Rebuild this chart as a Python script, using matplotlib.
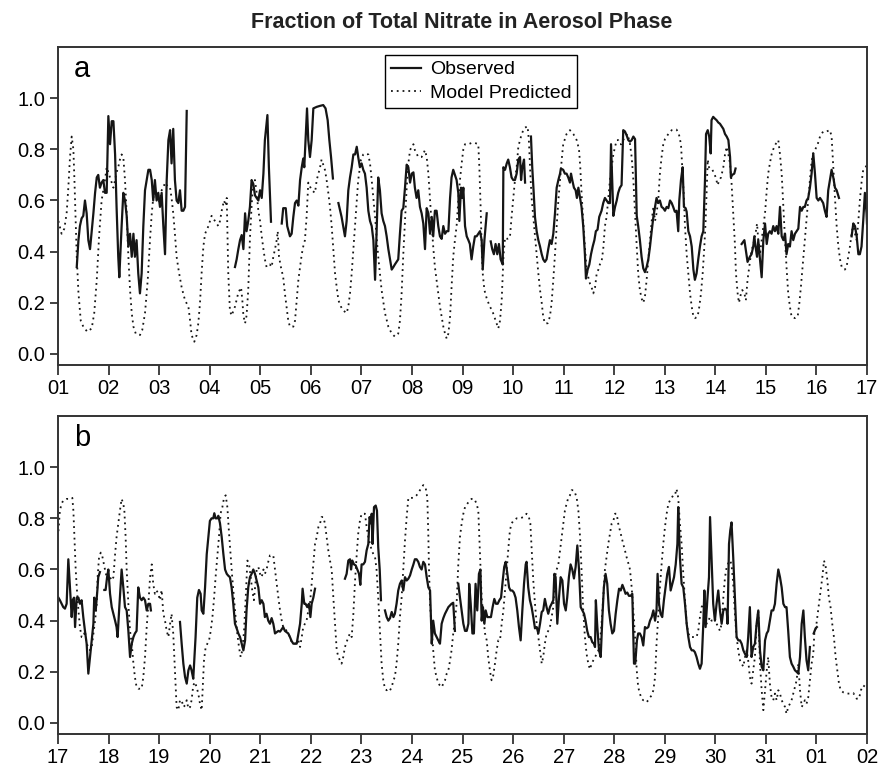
import numpy as np
import matplotlib.pyplot as plt

plt.rcParams['font.family'] = ['Liberation Sans', 'DejaVu Sans']

# hours since start of each panel, value ; (nan, nan) marks a data gap
obs_a = [(8.9, .34), (9.7, .445), (10.4, .50), (11.2, .53), (12.0, .54), (12.8, .60), (13.6, .55), (14.4, .445),
         (15.2, .41), (16.0, .48), (16.8, .55), (17.6, .63), (18.4, .69), (19.1, .70), (19.9, .65), (20.7, .67),
         (21.5, .68), (22.3, .63), (23.1, .63), (23.9, .93), (24.7, .82), (25.5, .91), (26.3, .91), (27.1, .78),
         (27.8, .575), (28.6, .38), (29.1, .30), (30.2, .50), (31.0, .63), (31.8, .60), (32.6, .54), (33.4, .42),
         (34.2, .47), (35.0, .38), (35.8, .47), (36.5, .38), (37.3, .445), (38.1, .315), (38.9, .237), (39.7, .315),
         (40.5, .50), (41.3, .64), (42.1, .68), (42.9, .72), (43.7, .72), (44.5, .68), (45.2, .60), (46.0, .68),
         (46.8, .60), (47.6, .63), (48.4, .575), (49.2, .63), (50.0, .50), (50.8, .39), (51.6, .68), (52.4, .836),
         (53.2, .875), (53.9, .745), (54.7, .88), (55.5, .68), (56.3, .60), (57.1, .59), (57.9, .64), (58.7, .56),
         (59.5, .56), (60.3, .575), (61.1, .95), (np.nan, np.nan),
         (84.0, .34), (84.8, .37), (85.6, .41), (86.4, .445), (87.2, .465), (88.0, .41), (88.8, .55), (89.5, .48),
         (90.3, .52), (91.1, .575), (91.9, .68), (92.7, .665), (93.5, .62), (94.3, .61), (95.1, .60), (95.9, .64),
         (96.7, .61), (97.5, .705), (98.2, .836), (99.4, .934), (100.1, .73), (101.1, .517), (np.nan, np.nan),
         (106.2, .51), (106.9, .57), (108.1, .57), (108.8, .50), (110.1, .46), (110.9, .47), (111.7, .536),
         (112.5, .59), (113.3, .60), (114.1, .58), (114.9, .68), (115.7, .73), (116.4, .764), (116.9, .73),
         (117.5, .836), (118.2, .96), (118.8, .836), (119.6, .77), (120.4, .836), (121.2, .96), (122.8, .966),
         (124.4, .97), (125.9, .973), (127.0, .96), (128.0, .914), (128.8, .836), (129.6, .77), (130.5, .686),
         (np.nan, np.nan),
         (133.1, .59), (134.6, .536), (136.2, .46), (137.0, .52), (137.8, .64), (138.6, .69), (139.4, .73),
         (140.2, .78), (141.0, .78), (141.8, .81), (142.5, .77), (143.3, .73), (144.1, .745), (144.9, .72),
         (145.7, .705), (146.5, .65), (147.3, .56), (148.1, .52), (148.9, .50), (149.7, .445), (150.5, .29),
         (151.2, .47), (152.0, .69), (152.8, .64), (153.6, .55), (154.4, .52), (155.2, .50), (156.0, .46),
         (156.8, .41), (157.6, .37), (158.4, .33), (159.2, .34), (159.9, .35), (160.7, .36), (161.5, .37),
         (162.3, .47), (163.1, .56), (163.9, .57), (164.7, .65), (165.5, .74), (166.3, .73), (167.1, .67),
         (167.9, .705), (168.7, .71), (169.4, .65), (170.2, .61), (171.0, .64), (171.8, .575), (172.6, .55),
         (173.4, .51), (174.2, .41), (175.0, .57), (175.8, .55), (176.6, .47), (177.4, .536), (178.1, .46),
         (178.9, .56), (179.7, .56), (180.5, .50), (181.3, .46), (182.1, .45), (182.9, .50), (183.7, .47),
         (184.5, .48), (185.3, .48), (186.1, .61), (186.8, .69), (187.6, .72), (188.4, .70), (189.2, .68),
         (190.0, .63), (190.5, .52), (191.3, .65), (191.9, .61), (192.4, .65), (193.2, .50), (194.0, .46),
         (194.8, .445), (195.5, .43), (196.3, .37), (197.1, .42), (197.9, .46), (198.7, .46), (199.5, .47),
         (200.3, .48), (201.1, .445), (201.6, .33), (202.4, .445), (203.5, .55), (np.nan, np.nan),
         (205.4, .44), (206.1, .41), (206.9, .39), (207.7, .43), (208.5, .39), (209.3, .43), (210.1, .37),
         (211.1, .35), (211.4, .73), (212.2, .72), (213.0, .745), (213.7, .76), (214.5, .73), (215.3, .69),
         (216.1, .68), (216.9, .68), (217.7, .705), (218.5, .76), (219.3, .77), (219.8, .68), (220.4, .73),
         (221.2, .76), (221.7, .67), (np.nan, np.nan),
         (224.5, .85), (225.1, .73), (225.8, .63), (226.4, .536), (227.2, .48), (228.0, .445), (228.8, .42),
         (229.6, .39), (230.3, .37), (231.1, .36), (231.9, .37), (232.7, .41), (233.5, .445), (234.3, .43),
         (235.1, .47), (235.9, .55), (236.7, .65), (237.5, .68), (238.3, .705), (238.7, .725), (239.8, .72),
         (240.6, .705), (241.4, .705), (242.2, .69), (243.0, .67), (243.5, .705), (244.1, .68), (244.9, .65),
         (245.7, .64), (246.3, .61), (247.0, .65), (247.8, .61), (248.5, .575), (249.3, .50), (250.1, .39),
         (250.6, .295), (251.4, .33), (252.2, .35), (253.0, .39), (253.8, .42), (254.6, .445), (255.3, .48),
         (256.1, .486), (256.9, .536), (258.0, .56), (258.8, .59), (259.6, .61), (260.4, .60), (261.2, .59),
         (262.0, .59), (262.5, .82), (263.1, .67), (263.6, .54), (264.4, .575), (265.2, .60), (265.9, .63),
         (266.7, .65), (267.5, .66), (268.3, .875), (269.1, .87), (269.9, .855), (270.7, .836), (271.5, .83),
         (272.3, .836), (273.1, .85), (273.9, .84), (274.7, .54), (275.4, .50), (276.2, .445), (277.0, .38),
         (277.8, .335), (278.6, .32), (279.4, .34), (280.2, .37), (281.0, .42), (281.8, .48), (282.6, .536),
         (283.4, .575), (284.1, .61), (284.9, .59), (285.7, .60), (286.5, .575), (287.3, .57), (288.1, .56),
         (288.9, .575), (289.7, .57), (290.5, .60), (291.3, .59), (292.0, .575), (292.8, .556), (293.6, .56),
         (294.4, .48), (294.9, .60), (295.7, .68), (296.5, .73), (297.1, .575), (297.9, .57), (298.4, .556),
         (299.2, .48), (300.0, .46), (300.8, .42), (301.6, .33), (302.3, .29), (303.1, .315), (303.9, .37),
         (304.7, .42), (305.5, .46), (306.3, .48), (307.1, .68), (307.6, .86), (308.4, .875), (309.1, .85),
         (309.8, .784), (310.2, .914), (311.0, .927), (311.8, .92), (312.6, .914), (313.4, .905), (314.2, .90),
         (315.0, .89), (315.8, .88), (316.6, .86), (317.4, .85), (318.2, .836), (319.0, .77), (319.4, .69),
         (320.0, .70), (321.0, .705), (321.6, .725), (np.nan, np.nan),
         (324.5, .43), (325.8, .445), (326.4, .41), (327.3, .36), (328.4, .38), (329.2, .39), (330.0, .42),
         (330.5, .46), (331.1, .42), (331.8, .38), (332.4, .445), (333.2, .37), (334.0, .30), (334.8, .445),
         (335.6, .51), (336.4, .43), (337.1, .47), (337.9, .48), (338.7, .47), (339.5, .50), (340.3, .48),
         (341.1, .50), (341.9, .47), (342.7, .575), (343.5, .46), (344.3, .445), (345.1, .47), (345.8, .39),
         (346.6, .43), (347.4, .42), (348.2, .48), (349.0, .445), (349.8, .47), (350.6, .48), (351.4, .49),
         (352.2, .575), (353.0, .56), (353.8, .575), (354.5, .575), (355.3, .60), (356.1, .61), (356.9, .65),
         (357.7, .705), (358.5, .784), (359.3, .705), (360.1, .61), (360.9, .60), (361.7, .61), (362.5, .60),
         (363.2, .59), (364.0, .56), (364.8, .536), (365.6, .64), (366.4, .68), (367.2, .72), (368.0, .69),
         (368.8, .65), (369.6, .64), (370.7, .61), (np.nan, np.nan),
         (376.7, .46), (377.5, .51), (378.3, .50), (379.1, .46), (379.9, .39), (380.6, .39), (381.4, .42),
         (382.2, .52), (383.0, .63), (383.8, .55), (384.0, .51)]

model_a = [(0.2, .52), (1.7, .47), (3.0, .49), (4.1, .55), (4.9, .65), (5.7, .77), (6.5, .85), (7.3, .80),
           (7.8, .68), (8.4, .51), (8.9, .38), (9.7, .24), (10.8, .13), (12.0, .107), (13.9, .087), (16.0, .10),
           (17.2, .16), (18.4, .29), (19.5, .46), (20.7, .60), (22.3, .68), (23.1, .73), (23.9, .71), (24.7, .69),
           (25.5, .67), (26.3, .65), (27.1, .68), (27.8, .71), (28.6, .73), (29.4, .76), (30.2, .78), (31.0, .77),
           (31.8, .68), (32.6, .55), (33.4, .38), (34.2, .25), (35.0, .16), (35.8, .107), (36.9, .08), (38.9, .074),
           (40.0, .094), (41.3, .16), (42.6, .29), (43.7, .45), (44.5, .55), (45.2, .61), (46.0, .63), (46.8, .61),
           (47.6, .59), (48.4, .60), (49.2, .64), (50.0, .65), (50.8, .67), (52.4, .65), (53.2, .65), (53.9, .61),
           (54.7, .55), (55.5, .47), (56.3, .38), (57.4, .32), (58.7, .26), (60.3, .21), (61.9, .185), (62.7, .13),
           (63.4, .074), (64.7, .048), (65.8, .074), (66.6, .12), (67.4, .20), (68.2, .32), (69.0, .42),
           (69.8, .47), (71.4, .50), (72.9, .54), (74.5, .52), (76.1, .50), (76.9, .52), (77.7, .56), (78.8, .60),
           (79.6, .58), (80.1, .61), (80.5, .45), (80.8, .32), (81.6, .17), (82.4, .15), (84.0, .185), (85.6, .24),
           (86.9, .26), (87.5, .21), (88.0, .15), (88.8, .12), (89.5, .15), (90.3, .25), (91.1, .45), (91.9, .58),
           (92.7, .68), (93.5, .68), (94.3, .63), (95.1, .56), (95.9, .52), (96.7, .46), (97.5, .41), (98.2, .37),
           (99.0, .34), (100.6, .35), (101.4, .34), (102.2, .38), (103.0, .41), (103.8, .445), (104.3, .48),
           (104.9, .38), (105.8, .34), (106.9, .30), (107.7, .237), (108.5, .185), (109.3, .13), (110.1, .107),
           (111.7, .107), (112.5, .13), (113.3, .21), (114.1, .29), (114.9, .34), (115.7, .39), (116.4, .42),
           (117.2, .445), (118.0, .536), (118.8, .67), (120.4, .64), (122.0, .63), (122.8, .68), (123.6, .705),
           (124.4, .73), (125.1, .76), (125.9, .74), (126.7, .72), (127.5, .68), (128.3, .63), (129.1, .575),
           (129.9, .50), (130.7, .41), (131.5, .315), (132.3, .26), (133.1, .21), (134.3, .185), (135.4, .17),
           (137.0, .16), (137.8, .185), (138.6, .237), (139.4, .315), (140.2, .41), (141.0, .50), (141.8, .60),
           (142.5, .68), (143.8, .76), (144.9, .78), (145.7, .784), (147.3, .78), (148.1, .745), (148.9, .68),
           (149.7, .61), (150.5, .536), (151.2, .46), (152.0, .38), (152.8, .315), (153.6, .25), (155.2, .16),
           (156.8, .107), (158.4, .08), (159.9, .068), (161.5, .08), (162.3, .13), (163.1, .237), (163.9, .39),
           (164.7, .52), (165.5, .65), (166.3, .745), (167.1, .797), (167.9, .81), (168.7, .82), (169.4, .797),
           (171.0, .77), (172.6, .77), (174.2, .797), (175.0, .77), (175.8, .705), (176.6, .60), (177.4, .50),
           (178.1, .42), (178.9, .34), (179.7, .29), (180.5, .237), (181.3, .185), (182.1, .146), (182.9, .107),
           (183.7, .08), (184.5, .06), (185.3, .08), (186.1, .146), (186.8, .26), (187.6, .38), (188.4, .445),
           (189.2, .50), (190.0, .60), (190.8, .68), (191.6, .745), (192.4, .80), (193.2, .82), (194.8, .82),
           (196.3, .825), (197.9, .825), (199.5, .82), (200.0, .73), (200.6, .575), (201.1, .42), (201.6, .315),
           (202.4, .25), (203.5, .217), (205.0, .185), (206.1, .17), (207.1, .146), (208.2, .12), (209.0, .10),
           (209.8, .13), (210.6, .21), (211.1, .315), (211.5, .39), (212.2, .455), (213.3, .45), (214.5, .455),
           (215.3, .536), (216.1, .61), (216.9, .68), (217.7, .73), (218.5, .81), (219.3, .836), (220.1, .86),
           (220.9, .875), (221.7, .885), (222.9, .89), (223.5, .836), (224.2, .705), (224.8, .61), (225.6, .536),
           (226.4, .46), (227.2, .39), (228.0, .315), (228.8, .25), (229.6, .20), (230.3, .146), (231.1, .12),
           (232.4, .12), (233.5, .146), (234.3, .20), (235.1, .29), (235.9, .39), (236.7, .50), (237.5, .60),
           (238.3, .68), (239.1, .76), (239.8, .82), (241.4, .86), (243.0, .875), (244.6, .86), (246.2, .836),
           (247.3, .80), (247.9, .73), (248.5, .63), (249.3, .52), (250.1, .42), (250.9, .33), (251.7, .30),
           (252.5, .275), (253.3, .26), (254.1, .237), (254.9, .26), (255.7, .315), (256.5, .33), (257.2, .35),
           (258.0, .36), (258.8, .41), (259.6, .50), (260.4, .536), (261.2, .61), (262.0, .68), (262.8, .73),
           (263.6, .78), (264.4, .81), (265.2, .836), (265.9, .836), (266.7, .82), (267.5, .82), (268.3, .836),
           (269.1, .85), (270.4, .86), (271.5, .82), (272.3, .77), (273.1, .68), (273.9, .55), (274.7, .42),
           (275.4, .315), (276.2, .25), (277.0, .217), (277.8, .20), (278.6, .224), (279.4, .29), (280.2, .37),
           (281.0, .445), (281.8, .52), (282.6, .575), (283.4, .52), (284.1, .55), (284.9, .60), (285.7, .705),
           (286.5, .77), (287.3, .82), (288.1, .84), (289.7, .86), (291.3, .875), (293.6, .877), (294.7, .86),
           (295.7, .82), (296.3, .73), (297.1, .61), (297.6, .50), (298.4, .39), (299.2, .315), (300.0, .237),
           (300.8, .185), (301.6, .146), (302.3, .14), (303.6, .146), (304.4, .185), (305.2, .237), (306.0, .315),
           (306.8, .42), (307.4, .52), (307.9, .64), (308.4, .76), (309.0, .73), (309.9, .72), (310.6, .72),
           (311.5, .705), (312.2, .69), (313.1, .66), (313.9, .68), (314.7, .69), (315.8, .73), (316.6, .78),
           (317.4, .81), (318.2, .78), (319.0, .745), (319.7, .67), (320.5, .55), (321.3, .43), (321.8, .315),
           (322.6, .237), (323.2, .20), (324.2, .237), (324.8, .25), (325.8, .237), (326.5, .21), (327.3, .29),
           (328.1, .34), (328.9, .39), (329.7, .42), (330.5, .445), (331.1, .47), (331.8, .51), (332.4, .445),
           (333.2, .39), (334.0, .445), (334.8, .50), (335.6, .55), (336.4, .64), (337.1, .705), (337.9, .745),
           (338.7, .78), (339.5, .80), (340.6, .82), (341.9, .836), (342.7, .78), (343.5, .705), (344.3, .575),
           (345.1, .445), (345.8, .34), (346.6, .237), (347.4, .185), (348.2, .146), (349.8, .14), (351.1, .146),
           (351.9, .20), (352.6, .26), (353.4, .34), (354.2, .42), (355.0, .50), (355.8, .575), (356.6, .65),
           (357.4, .73), (358.2, .78), (359.3, .797), (360.6, .82), (361.7, .85), (363.2, .87), (364.8, .87),
           (366.4, .875), (367.2, .85), (368.0, .73), (368.8, .61), (369.6, .50), (370.4, .42), (371.2, .37),
           (372.0, .34), (373.5, .33), (374.3, .34), (375.1, .38), (375.9, .42), (376.7, .47), (377.5, .51),
           (378.3, .47), (379.1, .445), (379.9, .52), (380.6, .60), (381.4, .67), (382.2, .72), (383.3, .73),
           (384.0, .74)]

obs_b = [(0.2, .49), (0.9, .48), (1.7, .466), (2.5, .453), (3.3, .447), (4.1, .466), (4.9, .64), (5.7, .53),
         (6.5, .414), (7.0, .48), (7.6, .49), (8.1, .375), (8.9, .49), (9.7, .49), (10.4, .466), (11.2, .48),
         (12.0, .414), (12.8, .36), (13.6, .31), (14.4, .193), (15.2, .258), (16.0, .323), (16.8, .388),
         (17.2, .49), (17.9, .44), (18.7, .52), (19.1, .57), (19.9, .59), (np.nan, np.nan),
         (22.0, .52), (22.6, .52), (23.3, .57), (23.9, .60), (24.7, .505), (25.5, .453), (26.3, .427), (27.1, .40),
         (27.8, .375), (28.3, .336), (29.0, .44), (29.6, .52), (30.2, .60), (31.0, .53), (31.8, .453), (32.6, .44),
         (33.4, .36), (34.2, .258), (35.0, .31), (35.8, .336), (36.5, .35), (37.3, .36), (38.1, .53), (38.9, .49),
         (39.7, .48), (40.5, .49), (41.3, .48), (42.1, .44), (42.9, .466), (43.7, .466), (44.1, .44),
         (np.nan, np.nan),
         (57.9, .395), (58.7, .31), (59.5, .232), (60.3, .18), (61.1, .154), (61.9, .206), (62.7, .225),
         (63.4, .206), (64.2, .173), (64.7, .245), (65.3, .336), (66.1, .49), (66.9, .52), (67.7, .505),
         (68.2, .44), (69.0, .427), (69.8, .53), (70.6, .66), (71.4, .727), (72.1, .79), (72.9, .80), (73.7, .80),
         (74.2, .82), (74.8, .80), (75.6, .80), (76.1, .81), (76.9, .78), (77.7, .727), (78.5, .66), (79.3, .60),
         (80.1, .583), (80.8, .576), (81.6, .57), (82.4, .53), (83.2, .466), (84.0, .388), (84.8, .37),
         (85.6, .35), (86.4, .336), (87.2, .31), (88.0, .284), (88.8, .323), (89.5, .44), (90.3, .53), (91.1, .57),
         (91.9, .583), (92.7, .60), (93.5, .583), (94.3, .557), (95.1, .53), (95.9, .466), (96.7, .48),
         (97.5, .466), (98.2, .414), (99.0, .427), (99.8, .40), (100.6, .388), (101.4, .41), (102.2, .388),
         (103.0, .35), (103.8, .355), (104.6, .36), (105.4, .357), (106.9, .375), (107.7, .36), (108.5, .355),
         (109.3, .35), (110.1, .336), (110.9, .32), (111.7, .31), (112.5, .31), (113.3, .31), (114.1, .35),
         (114.9, .388), (115.7, .466), (116.1, .525), (116.9, .466), (117.5, .466), (118.3, .453), (119.1, .466),
         (119.8, .414), (120.4, .466), (121.2, .49), (122.0, .525), (np.nan, np.nan),
         (136.2, .564), (137.0, .583), (137.8, .635), (138.6, .64), (139.1, .60), (139.7, .635), (140.5, .62),
         (141.3, .616), (142.1, .60), (142.9, .583), (143.5, .54), (144.1, .62), (144.9, .62), (145.7, .63),
         (146.5, .675), (147.3, .70), (147.9, .805), (148.6, .78), (148.9, .818), (149.3, .70), (150.0, .844),
         (150.8, .85), (151.4, .83), (152.0, .687), (152.7, .60), (153.3, .48), (np.nan, np.nan),
         (155.2, .44), (156.0, .414), (156.8, .40), (157.6, .41), (158.4, .434), (159.2, .414), (159.9, .427),
         (160.7, .466), (161.5, .518), (162.3, .544), (163.1, .557), (163.9, .518), (164.7, .57), (165.5, .557),
         (166.3, .564), (167.1, .577), (167.9, .60), (168.7, .62), (169.4, .64), (170.2, .64), (171.0, .63),
         (171.8, .61), (172.6, .60), (173.4, .63), (174.2, .62), (175.0, .57), (175.8, .53), (176.6, .518),
         (177.4, .31), (178.1, .40), (178.9, .35), (179.7, .336), (180.5, .323), (181.3, .31), (182.1, .388),
         (182.9, .41), (183.7, .427), (184.5, .44), (185.3, .453), (186.1, .46), (186.8, .466), (187.6, .47),
         (188.4, .36), (np.nan, np.nan),
         (190.0, .544), (190.8, .49), (191.6, .44), (192.4, .388), (193.2, .36), (194.0, .36), (194.8, .388),
         (195.2, .544), (195.9, .466), (196.7, .35), (197.4, .35), (198.2, .544), (199.0, .44), (199.8, .583),
         (200.5, .60), (201.1, .40), (201.7, .453), (202.4, .388), (203.0, .44), (203.8, .414), (204.7, .414),
         (205.5, .414), (206.3, .453), (207.1, .485), (207.9, .466), (208.7, .466), (209.5, .48), (210.3, .49),
         (211.1, .557), (211.8, .61), (212.5, .63), (213.3, .583), (214.1, .53), (214.8, .518), (215.6, .518),
         (216.4, .51), (217.2, .49), (218.0, .44), (218.8, .375), (219.6, .323), (220.4, .44), (221.2, .544),
         (222.0, .62), (222.4, .63), (223.2, .53), (224.0, .48), (224.8, .453), (225.6, .414), (226.4, .37),
         (227.2, .375), (228.0, .35), (228.8, .388), (229.6, .434), (230.3, .44), (231.1, .485), (231.9, .453),
         (232.7, .427), (233.5, .453), (234.3, .466), (235.1, .48), (235.6, .583), (236.2, .57), (237.0, .388),
         (237.8, .49), (238.6, .57), (239.4, .557), (240.2, .466), (241.0, .44), (241.7, .49), (242.5, .57),
         (243.3, .62), (244.1, .60), (244.9, .565), (245.7, .61), (246.5, .694), (247.3, .60), (248.1, .453),
         (248.9, .44), (249.7, .427), (250.4, .40), (251.2, .36), (252.0, .336), (252.8, .336), (253.6, .316),
         (254.4, .31), (254.9, .297), (255.3, .48), (256.0, .375), (256.8, .284), (257.6, .258), (258.4, .414),
         (259.1, .53), (259.9, .583), (260.7, .544), (261.5, .44), (262.3, .388), (263.1, .35), (263.9, .36),
         (264.7, .427), (265.5, .48), (266.3, .525), (267.1, .518), (267.9, .54), (268.6, .525), (269.4, .505),
         (270.2, .51), (271.0, .497), (271.8, .497), (272.6, .505), (273.4, .232), (274.0, .232), (274.8, .323),
         (275.4, .35), (276.2, .35), (277.0, .336), (277.8, .303), (278.6, .375), (279.4, .37), (280.2, .375),
         (281.0, .40), (281.8, .414), (282.6, .44), (283.4, .40), (284.1, .44), (284.6, .583), (285.3, .466),
         (286.0, .427), (286.8, .414), (287.6, .48), (288.4, .53), (289.2, .583), (290.0, .61), (290.8, .518),
         (291.6, .544), (292.4, .57), (293.2, .62), (294.0, .70), (294.4, .844), (295.2, .648), (296.0, .544),
         (296.8, .53), (297.6, .466), (298.4, .388), (299.2, .336), (300.0, .297), (300.8, .284), (301.6, .284),
         (302.3, .277), (303.1, .258), (303.9, .232), (304.7, .212), (305.5, .232), (306.3, .388), (306.8, .518),
         (307.4, .375), (308.2, .48), (309.0, .57), (309.5, .805), (310.2, .648), (311.0, .466), (311.8, .40),
         (312.6, .466), (313.4, .518), (314.2, .44), (315.0, .388), (315.8, .44), (316.6, .447), (317.4, .44),
         (317.8, .388), (318.5, .70), (319.1, .753), (319.7, .784), (320.5, .648), (321.3, .49), (322.1, .336),
         (322.9, .323), (323.7, .323), (324.5, .31), (325.3, .284), (326.1, .27), (326.9, .258), (327.6, .336),
         (328.4, .453), (329.2, .258), (330.0, .297), (330.8, .31), (331.6, .388), (332.4, .44), (333.2, .284),
         (334.0, .22), (334.8, .206), (335.6, .323), (336.4, .35), (337.1, .36), (337.9, .40), (338.7, .44),
         (339.5, .44), (340.3, .466), (341.1, .544), (341.9, .60), (342.7, .57), (343.5, .53), (344.3, .466),
         (345.1, .453), (345.8, .453), (346.6, .36), (347.4, .258), (348.2, .232), (349.0, .22), (349.8, .206),
         (350.6, .20), (351.4, .193), (352.2, .258), (353.0, .388), (353.8, .44), (354.5, .336), (355.3, .245),
         (356.1, .206), (356.9, .297), (np.nan, np.nan),
         (358.7, .35), (359.6, .37), (360.2, .375)]

model_b = [(0.2, .75), (0.9, .83), (1.7, .857), (2.5, .87), (4.1, .876), (5.7, .876), (6.8, .88), (7.3, .83),
           (7.8, .727), (8.4, .60), (8.9, .53), (9.7, .44), (10.4, .375), (11.2, .336), (12.0, .336), (12.8, .36),
           (13.6, .31), (14.4, .297), (15.2, .284), (16.0, .297), (16.8, .35), (17.6, .40), (18.4, .466),
           (18.8, .57), (19.5, .65), (20.3, .666), (21.0, .653), (21.8, .62), (22.3, .60), (23.1, .57), (23.9, .583),
           (24.7, .57), (25.5, .557), (26.3, .57), (27.1, .66), (27.8, .727), (28.6, .78), (29.4, .83), (30.2, .876),
           (31.0, .857), (31.5, .83), (32.1, .727), (32.6, .60), (33.4, .466), (34.2, .36), (35.0, .31),
           (35.8, .232), (36.5, .18), (37.3, .14), (38.1, .134), (39.7, .134), (40.5, .18), (41.3, .258),
           (42.1, .375), (42.9, .466), (43.7, .57), (44.5, .62), (45.2, .544), (46.0, .505), (46.8, .518),
           (47.6, .505), (48.4, .48), (49.2, .52), (50.0, .427), (50.8, .40), (51.6, .36), (52.4, .336), (53.2, .388),
           (53.9, .427), (54.7, .35), (55.5, .206), (56.3, .0625), (57.1, .05), (57.9, .089), (58.7, .089),
           (59.5, .0625), (60.3, .069), (61.1, .089), (61.9, .056), (62.7, .0625), (63.4, .089), (64.2, .147),
           (65.0, .16), (65.8, .14), (66.6, .115), (67.4, .075), (68.2, .05), (68.7, .14), (69.3, .245), (70.1, .297),
           (70.9, .31), (71.7, .323), (72.5, .36), (73.3, .414), (74.1, .49), (74.8, .57), (75.6, .65), (76.4, .727),
           (77.2, .82), (78.0, .843), (78.8, .88), (79.6, .89), (80.4, .843), (81.2, .74), (82.0, .65), (82.7, .57),
           (83.5, .49), (84.3, .414), (85.1, .35), (85.9, .297), (86.7, .258), (87.5, .284), (88.3, .36),
           (89.1, .49), (89.9, .635), (90.7, .62), (91.5, .57), (92.2, .518), (93.0, .48), (94.3, .60), (95.1, .61),
           (95.9, .583), (96.7, .57), (97.5, .60), (98.2, .583), (99.0, .60), (99.8, .63), (100.6, .655),
           (101.4, .655), (102.2, .655), (103.0, .60), (103.8, .544), (104.6, .49), (105.4, .44), (106.2, .40),
           (106.9, .375), (107.7, .37), (108.5, .36), (109.3, .35), (110.1, .336), (110.9, .316), (111.7, .31),
           (112.5, .31), (113.3, .316), (114.1, .323), (114.9, .297), (115.7, .336), (116.4, .375), (117.2, .388),
           (118.0, .40), (118.8, .44), (119.6, .466), (120.4, .544), (121.2, .62), (122.0, .70), (122.8, .727),
           (123.6, .766), (124.4, .78), (125.1, .805), (125.9, .805), (126.7, .78), (127.5, .727), (128.3, .675),
           (129.1, .635), (129.9, .60), (130.7, .49), (131.5, .388), (132.3, .284), (133.1, .258), (133.8, .245),
           (134.6, .232), (135.4, .258), (136.2, .297), (137.0, .316), (137.8, .336), (138.6, .35), (139.4, .336),
           (140.2, .427), (141.0, .557), (141.8, .66), (142.5, .74), (143.3, .79), (144.1, .818), (144.9, .818),
           (145.7, .818), (146.5, .766), (147.3, .727), (148.1, .70), (148.9, .675), (149.7, .66), (150.5, .648),
           (151.2, .60), (152.0, .49), (152.8, .36), (153.6, .232), (154.4, .167), (155.2, .134), (156.0, .128),
           (156.8, .134), (157.6, .128), (158.4, .14), (159.2, .167), (159.9, .18), (160.7, .232), (161.5, .31),
           (162.3, .414), (163.1, .49), (163.9, .60), (164.7, .714), (165.5, .805), (166.3, .88), (167.1, .88),
           (168.7, .88), (170.2, .89), (171.8, .91), (173.4, .93), (174.5, .92), (175.3, .88), (175.8, .727),
           (176.1, .60), (176.6, .466), (177.4, .36), (178.1, .284), (178.9, .206), (179.7, .18), (180.5, .154),
           (181.3, .147), (182.1, .14), (182.9, .154), (183.7, .167), (184.5, .193), (185.3, .206), (186.1, .245),
           (186.8, .284), (187.6, .35), (188.4, .40), (189.2, .466), (190.0, .62), (190.8, .727), (191.6, .78),
           (192.4, .818), (193.2, .844), (194.8, .863), (196.3, .876), (197.6, .876), (198.7, .857), (199.5, .83),
           (200.0, .727), (200.6, .60), (201.1, .49), (201.9, .414), (202.7, .35), (203.5, .323), (204.2, .258),
           (205.0, .206), (205.8, .167), (206.6, .186), (207.4, .232), (208.2, .284), (209.0, .323), (209.8, .323),
           (210.6, .388), (211.4, .44), (212.2, .518), (213.0, .60), (213.7, .675), (214.5, .753), (215.3, .78),
           (216.1, .79), (217.7, .80), (219.3, .80), (220.9, .805), (222.4, .818), (223.5, .805), (224.2, .78),
           (224.8, .687), (225.6, .557), (226.4, .466), (227.2, .388), (228.0, .336), (228.8, .284), (229.6, .232),
           (230.3, .258), (231.1, .31), (231.9, .35), (232.7, .36), (233.5, .375), (234.3, .414), (235.1, .453),
           (235.9, .57), (236.7, .60), (237.5, .62), (238.3, .675), (239.1, .727), (239.8, .78), (240.6, .83),
           (241.4, .857), (242.2, .88), (243.0, .89), (243.8, .91), (244.6, .91), (245.4, .90), (246.2, .88),
           (247.0, .83), (247.8, .727), (248.5, .60), (249.3, .44), (250.1, .336), (250.9, .27), (251.7, .232),
           (252.5, .21), (253.3, .232), (254.1, .245), (254.9, .258), (255.7, .27), (256.5, .284), (257.2, .31),
           (258.0, .388), (258.8, .49), (259.6, .60), (260.4, .65), (261.2, .70), (262.0, .74), (262.8, .78),
           (263.6, .79), (264.4, .818), (265.2, .818), (265.9, .78), (266.7, .753), (267.5, .727), (268.3, .70),
           (269.1, .675), (269.9, .648), (270.7, .625), (271.5, .60), (272.3, .53), (273.1, .44), (273.9, .336),
           (274.7, .206), (275.4, .14), (276.2, .115), (277.0, .095), (277.8, .089), (278.6, .089), (279.4, .082),
           (280.2, .089), (281.0, .10), (281.8, .108), (282.6, .128), (283.4, .18), (284.1, .31), (284.9, .414),
           (285.7, .53), (286.5, .62), (287.3, .70), (288.1, .766), (288.9, .818), (289.7, .857), (290.5, .87),
           (291.3, .88), (292.0, .89), (292.8, .89), (293.6, .915), (294.4, .88), (295.2, .78), (296.0, .70),
           (296.8, .583), (297.6, .48), (298.4, .388), (299.2, .35), (300.0, .336), (301.6, .336), (303.1, .336),
           (303.9, .36), (304.7, .414), (305.5, .453), (306.3, .466), (307.1, .414), (307.9, .388), (308.7, .40),
           (309.5, .414), (310.2, .40), (311.0, .40), (311.8, .41), (312.6, .388), (313.4, .375), (314.2, .36),
           (315.0, .388), (315.8, .49), (316.6, .57), (317.4, .61), (318.2, .625), (319.0, .635), (319.7, .62),
           (320.5, .544), (321.3, .427), (322.1, .336), (322.9, .284), (323.7, .245), (324.5, .232), (325.3, .22),
           (326.1, .258), (326.9, .284), (327.6, .245), (328.4, .18), (329.2, .154), (330.0, .206), (330.8, .258),
           (331.6, .388), (332.4, .44), (333.2, .232), (334.0, .128), (334.8, .05), (335.6, .128), (336.4, .206),
           (337.1, .258), (337.9, .154), (338.7, .10), (339.5, .089), (340.3, .115), (341.1, .089), (341.9, .128),
           (342.7, .115), (343.5, .089), (344.3, .075), (345.1, .0625), (345.8, .036), (346.6, .0625), (347.4, .075),
           (348.2, .089), (349.0, .115), (349.8, .14), (350.6, .167), (351.4, .232), (352.2, .128), (353.0, .0625),
           (353.8, .075), (354.5, .089), (355.3, .075), (356.1, .10), (356.9, .167), (357.7, .232), (358.5, .27),
           (359.0, .35), (359.6, .36), (360.4, .414), (361.2, .466), (362.0, .518), (362.8, .57), (363.6, .635),
           (364.4, .61), (365.2, .557), (365.9, .49), (366.7, .453), (367.5, .388), (368.3, .336), (369.1, .258),
           (369.9, .206), (370.7, .154), (371.5, .128), (372.7, .12), (374.3, .115), (375.9, .115), (377.5, .117),
           (379.1, .095), (380.2, .095), (381.1, .128), (382.2, .147), (383.3, .14), (384.0, .134)]

start_a = 1    # panel a starts at day 01
start_b = 17   # panel b starts at day 17
labels_a = ['%02d' % d for d in range(1, 18)]
labels_b = ['%02d' % d for d in range(17, 32)] + ['01', '02']
yticks = [0.0, 0.2, 0.4, 0.6, 0.8, 1.0]

W, H = 881, 770
fig = plt.figure(figsize=(W / 100, H / 100), dpi=100)
ax_a = fig.add_axes([58 / W, 1 - 365 / H, 809 / W, 318 / H])
ax_b = fig.add_axes([58 / W, 1 - 734 / H, 809 / W, 318 / H])

spine_col = '#333333'
line_col = '#151515'


def draw(ax, obs, model, start, labels, letter):
    o = np.array(obs)
    m = np.array(model)
    ax.plot(start + o[:, 0] / 24, o[:, 1], color=line_col, lw=1.6, label='Observed')
    ax.plot(start + m[:, 0] / 24, m[:, 1], color=line_col, lw=1.3,
            linestyle=(0, (1, 2.2)), label='Model Predicted')
    ax.set_xlim(start, start + 16)
    ax.set_ylim(-0.043, 1.2)
    ax.set_xticks(np.arange(start, start + 17))
    ax.set_xticklabels(labels)
    ax.set_yticks(yticks)
    ax.set_yticklabels(['%.1f' % v for v in yticks])
    ax.tick_params(axis='x', length=7, width=1.3, color=spine_col, labelsize=14.5, pad=3)
    ax.tick_params(axis='y', length=6, width=1.3, color=spine_col, labelsize=14.5, pad=3)
    for s in ax.spines.values():
        s.set_color(spine_col)
        s.set_linewidth(1.4)
    ax.text(0.02, 0.905, letter, transform=ax.transAxes, fontsize=21, va='baseline')


draw(ax_a, obs_a, model_a, start_a, labels_a, 'a')
draw(ax_b, obs_b, model_b, start_b, labels_b, 'b')

leg = ax_a.legend(loc='upper left', bbox_to_anchor=(0.4042, 0.975), fontsize=14,
                  frameon=True, fancybox=False, edgecolor='black', framealpha=1,
                  handlelength=1.55, handletextpad=0.45, borderpad=0.3,
                  labelspacing=0.3, borderaxespad=0)
leg.get_frame().set_linewidth(1.0)

fig.text(462 / W, 1 - 22.5 / H, 'Fraction of Total Nitrate in Aerosol Phase',
         ha='center', va='center', fontsize=15.5, fontweight='bold', color='#222222')

fig.savefig('out.png', dpi=100)
